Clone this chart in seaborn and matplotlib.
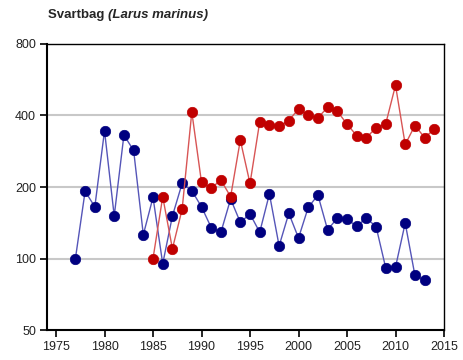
import numpy as np
import pandas as pd
import seaborn as sns
import matplotlib.pyplot as plt
from matplotlib.ticker import FixedLocator, NullLocator, FixedFormatter

# blue series, 1977-2013
blue_years = list(range(1977, 2014))
blue_vals = [100, 192, 165, 345, 151, 331, 285, 126, 181, 95, 151, 207, 193, 165,
             135, 129, 178, 142, 154, 129, 187, 113, 155, 122, 164, 185, 132, 148,
             146, 137, 148, 136, 91, 92, 141, 85, 81]

# red series, 1985-2014
red_years = list(range(1985, 2015))
red_vals = [100, 182, 110, 161, 414, 209, 198, 214, 182, 315, 207, 376, 366, 360,
            381, 426, 401, 391, 433, 417, 368, 329, 323, 355, 370, 536, 302, 363,
            323, 350]

yticks = [50, 100, 200, 400, 800]
xticks = list(range(1975, 2016, 5))

df = pd.concat([
    pd.DataFrame({'year': blue_years, 'n': blue_vals, 'serie': 'blue'}),
    pd.DataFrame({'year': red_years, 'n': red_vals, 'serie': 'red'}),
])

sns.set_style('white')
plt.rcParams['font.family'] = ['Liberation Sans', 'DejaVu Sans']

fig = plt.figure(figsize=(4.64, 3.6), dpi=100)
ax = fig.add_axes([0.1013, 0.0833, 0.8556, 0.7945])

line_cols = {'blue': '#5555b8', 'red': '#d85555'}
mark_cols = {'blue': '#000080', 'red': '#c00000'}
for s in ['blue', 'red']:
    sub = df[df['serie'] == s]
    sns.lineplot(data=sub, x='year', y='n', ax=ax, color=line_cols[s], lw=1,
                 marker='o', markersize=7.5, markerfacecolor=mark_cols[s],
                 markeredgecolor=mark_cols[s], markeredgewidth=0.5, zorder=3)

ax.set_yscale('log')
ax.set_ylim(50, 800)
ax.set_xlim(1974.07, 2015)
ax.yaxis.set_major_locator(FixedLocator(yticks))
ax.yaxis.set_major_formatter(FixedFormatter([str(v) for v in yticks]))
ax.yaxis.set_minor_locator(NullLocator())
ax.set_xticks(xticks)
ax.set_xlabel('')
ax.set_ylabel('')

for v in [100, 200, 400]:
    ax.axhline(v, color='#c8c8c8', lw=1.5, zorder=1)

for sp in ax.spines.values():
    sp.set_color('black')
    sp.set_linewidth(1.5)
ax.spines['top'].set_linewidth(1.0)
ax.spines['right'].set_linewidth(1.0)

ax.tick_params(axis='both', direction='out', length=5, width=1.2, color='black',
               labelsize=9, labelcolor='#222222', pad=3)
ax.tick_params(axis='y', left=True)
ax.tick_params(axis='x', bottom=True)

t = fig.text(48 / 464, 1 - 15 / 360, 'Svartbag ', fontsize=9.5, fontweight='bold',
             va='center', ha='left')
ax.annotate('(Larus marinus)', xy=(1, 0.5), xycoords=t, va='center', ha='left',
            fontsize=9.5, fontweight='bold', fontstyle='italic')

fig.savefig('out.png', dpi=100)
